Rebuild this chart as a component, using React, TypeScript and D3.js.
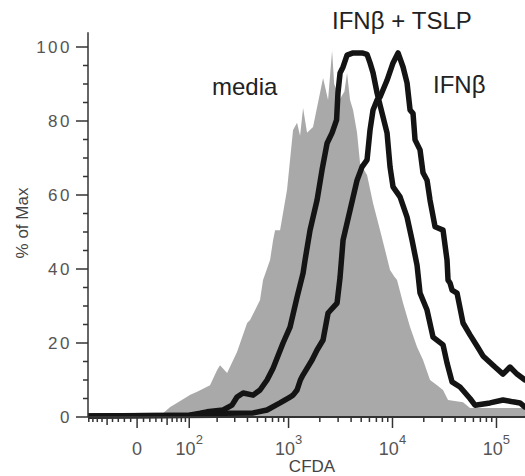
import React, { useEffect, useRef } from 'react'
import * as d3 from 'd3'

// CFDA value, % of Max
const media: [number, number][] = [
  [-92, 0], [40, 0], [43, 1.1], [56, 2.7], [70, 3.8], [103, 6], [123, 6.8], [169, 8.6],
  [200, 12.7], [214, 14], [252, 11.9], [316, 17.6], [397, 25.4], [424, 26.2], [530, 31.6],
  [567, 37], [663, 42.4], [709, 47.8], [741, 50.5], [828, 50.5], [967, 61.4], [1105, 77.6],
  [1208, 79.5], [1291, 76], [1380, 83.5], [1507, 76.8], [1721, 78.4], [1923, 85], [2149, 91.6],
  [2401, 85.7], [2624, 99], [2750, 90], [2931, 88], [3133, 86], [3450, 88], [3657, 93],
  [3909, 85.7], [4177, 83], [4564, 76.8], [4877, 68.6], [5694, 65.4], [6503, 57.8],
  [7595, 50.5], [8862, 43], [9471, 39.7], [10400, 38], [11060, 37], [12635, 30.8],
  [14756, 24.3], [17227, 18.9], [19670, 15.4], [22967, 10], [26817, 8.6], [30625, 7.3],
  [34209, 4.6], [47684, 4], [55657, 2.4], [262143, 2.4]
]

const ifnTslp: [number, number][] = [
  [-92, 0.3], [100, 0.5], [133, 1], [157, 1.4], [230, 1.9], [282, 3.2], [316, 5.4],
  [363, 6.5], [454, 5.9], [530, 7.3], [620, 10], [709, 13.2], [885, 20], [1034, 24.3],
  [1208, 32.4], [1380, 38.9], [1442, 42.4], [1611, 50.5], [1881, 58.6], [2102, 66.8],
  [2349, 74], [2624, 76.8], [2900, 80.3], [2990, 87.6], [3133, 93], [3347, 94.6],
  [3657, 97.8], [4177, 98.4], [5098, 98.4], [5694, 98], [6085, 95.7], [6503, 93],
  [7105, 87.6], [7595, 84.3], [8862, 76.8], [9471, 67.6], [10122, 62.2], [11823, 59.5],
  [13804, 54], [15421, 47.8], [17227, 41], [18403, 33.5], [21490, 28.9], [24542, 21.6],
  [30625, 19.5], [33460, 14.6], [37380, 9.5], [44618, 8.1], [55657, 5], [62153, 3.2],
  [86590, 3.8], [115500, 4.6], [144130, 4.1], [168280, 3.8], [188020, 2.7], [262143, 2.5]
]

const ifn: [number, number][] = [
  [-92, 0.3], [200, 0.5], [230, 1], [454, 1.1], [620, 1.9], [828, 3.8], [1034, 5.4],
  [1105, 5.9], [1208, 7.3], [1300, 10], [1380, 11.4], [1684, 15.4], [1881, 18.1],
  [2149, 20.8], [2401, 28.1], [2931, 30.8], [3133, 37.8], [3347, 47.8], [3909, 55.9],
  [4564, 64], [5098, 67.6], [5694, 69.5], [6085, 77.6], [6503, 83], [7105, 85.7],
  [7595, 86.5], [8862, 91], [10122, 95.7], [11312, 98.4], [12635, 94.6], [13804, 90.3],
  [14756, 83], [15764, 82], [16478, 74.9], [18403, 72.2], [19670, 66], [21490, 64],
  [22967, 58.6], [25655, 51.4], [30625, 50.5], [33460, 42.4], [34209, 37], [35763, 36.2],
  [37380, 34.3], [41748, 33.5], [47684, 25.4], [55657, 22.2], [64960, 19.2], [74172, 16.5],
  [96740, 13.5], [115500, 11.6], [134890, 13.5], [157500, 11.6], [188020, 10], [262143, 9]
]

const yTicks = [0, 20, 40, 60, 80, 100]
const xTicks = [0, 100, 1000, 10000, 100000]
const xTickExp = ['', '2', '3', '4', '5']

const W = 70
const T = (v: number) => Math.asinh(v / W) / Math.LN10

function App() {
  const ref = useRef<SVGSVGElement>(null)

  useEffect(() => {
    drawChart(ref.current as SVGSVGElement)
  }, [])

  return (
    <svg ref={ref} width={525} height={476}
      style={{ position: 'absolute', left: 0, top: 0, background: '#fff' }} />
  )
}

function drawChart(node: SVGSVGElement) {
  const svg = d3.select(node)
  svg.selectAll('*').remove()

  const lin = d3.scaleLinear().domain([T(-92), T(262143)]).range([88, 540])
  const x = (v: number) => lin(T(v))
  const y = d3.scaleLinear().domain([0, 100]).range([417, 47])

  const font = 'Liberation Sans, Arial, Helvetica, sans-serif'

  // media (filled)
  const area = d3.area<[number, number]>()
    .x(d => x(d[0]))
    .y0(y(0))
    .y1(d => y(d[1]))
  svg.append('path')
    .datum(media)
    .attr('d', area)
    .attr('fill', '#a9a9a9')

  const line = d3.line<[number, number]>()
    .x(d => x(d[0]))
    .y(d => y(d[1]))

  ;[ifnTslp, ifn].forEach(s => {
    svg.append('path')
      .datum(s)
      .attr('d', line)
      .attr('fill', 'none')
      .attr('stroke', '#141414')
      .attr('stroke-width', 5.5)
      .attr('stroke-linejoin', 'round')
  })

  const axisColor = '#333'

  // y axis
  svg.append('line')
    .attr('x1', 88).attr('x2', 88)
    .attr('y1', y(0)).attr('y2', y(104))
    .attr('stroke', axisColor).attr('stroke-width', 1.5)
  d3.range(0, 101, 5).forEach(v => {
    const major = v % 20 === 0
    svg.append('line')
      .attr('x1', major ? 76 : 83).attr('x2', 88)
      .attr('y1', y(v)).attr('y2', y(v))
      .attr('stroke', axisColor).attr('stroke-width', 1.5)
  })
  svg.append('g').selectAll('text')
    .data(yTicks)
    .enter()
    .append('text')
    .attr('x', 72)
    .attr('y', d => y(d))
    .attr('dy', '0.36em')
    .attr('text-anchor', 'end')
    .attr('font-family', font)
    .attr('font-size', 17)
    .attr('letter-spacing', 2.5)
    .attr('fill', '#555')
    .text(d => d)

  svg.append('text')
    .attr('transform', 'translate(28,223) rotate(-90)')
    .attr('text-anchor', 'middle')
    .attr('font-family', font)
    .attr('font-size', 17)
    .attr('fill', '#444')
    .text('% of Max')

  // x axis
  svg.append('line')
    .attr('x1', 88).attr('x2', 525)
    .attr('y1', y(0)).attr('y2', y(0))
    .attr('stroke', axisColor).attr('stroke-width', 2)

  const minor: number[] = []
  for (let k = 1; k <= 9; k++) minor.push(-10 * k, 10 * k)
  for (const dec of [100, 1000, 10000, 100000]) {
    for (let k = 2; k <= 9; k++) minor.push(k * dec)
  }
  minor.filter(v => v >= -92 && x(v) <= 525).forEach(v => {
    const mid = Math.abs(v) === 50
    svg.append('line')
      .attr('x1', x(v)).attr('x2', x(v))
      .attr('y1', y(0)).attr('y2', y(0) + (mid ? 8 : 5))
      .attr('stroke', axisColor).attr('stroke-width', 1.5)
  })
  xTicks.forEach(v => {
    svg.append('line')
      .attr('x1', x(v)).attr('x2', x(v))
      .attr('y1', y(0)).attr('y2', y(0) + 11)
      .attr('stroke', axisColor).attr('stroke-width', 1.5)
  })

  xTicks.forEach((v, i) => {
    const t = svg.append('text')
      .attr('x', x(v))
      .attr('y', 455)
      .attr('text-anchor', 'middle')
      .attr('font-family', font)
      .attr('font-size', 18)
      .attr('fill', '#555')
    if (xTickExp[i]) {
      t.append('tspan').text('10')
      t.append('tspan')
        .attr('dy', -11)
        .attr('font-size', 13)
        .text(xTickExp[i])
    } else {
      t.text('0')
    }
  })

  svg.append('text')
    .attr('x', 312)
    .attr('y', 472)
    .attr('text-anchor', 'middle')
    .attr('font-family', font)
    .attr('font-size', 17)
    .attr('fill', '#444')
    .text('CFDA')

  // labels
  const labels: [string, number, number][] = [
    ['media', 212, 95],
    ['IFNβ + TSLP', 332, 29],
    ['IFNβ', 433, 93]
  ]
  labels.forEach(([s, lx, ly]) => {
    svg.append('text')
      .attr('x', lx)
      .attr('y', ly)
      .attr('font-family', font)
      .attr('font-size', 24)
      .attr('fill', '#222')
      .text(s)
  })
}

export default App
